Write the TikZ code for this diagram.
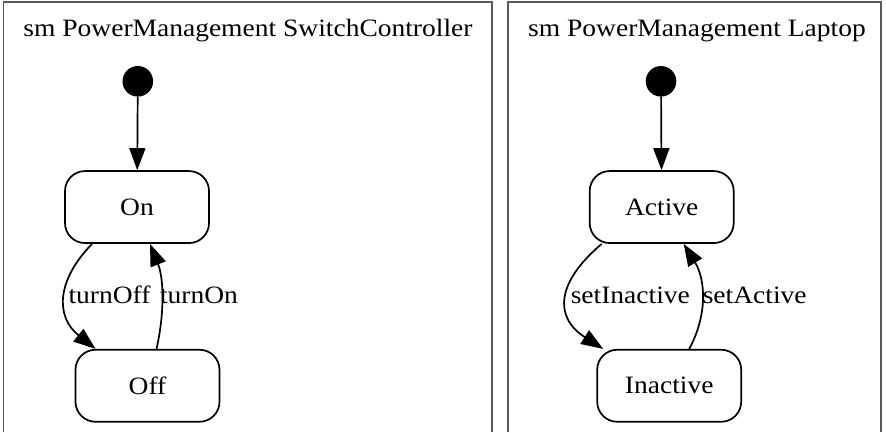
\documentclass[tikz,border=0pt]{standalone}
\usepackage{fontspec}
\setmainfont{Liberation Serif}[FakeStretch=1.1]
\usetikzlibrary{arrows.meta, positioning}

\begin{document}
\begin{tikzpicture}[
    x=1pt, y=-1pt,
    font=\fontsize{25}{29}\selectfont,
    state/.style={rectangle, draw, line width=1.7pt, rounded corners=20pt, minimum width=144pt, minimum height=72pt, align=center},
    startdot/.style={circle, fill=black, minimum size=30.6pt, inner sep=0pt},
    arrow/.style={line width=1.7pt, -{Triangle[length=22pt, width=16pt]}},
    frame/.style={draw=black!65, line width=1.5pt}
]
    \useasboundingbox (0,0) rectangle (886,432);

    % left machine
    \draw[frame] (3.5,432) -- (3.5,2) -- (492,2) -- (492,432);
    \node[anchor=base] (titleL) at (248,36) {sm PowerManagement SwitchController};
    \node[startdot] (initL) at (137.8,81.3) {};
    \node[state, below=73.4pt of initL, xshift=-0.8pt] (on) {On};
    \node[state, below=105pt of on, xshift=10.5pt] (off) {Off};

    \draw[arrow] (initL) -- (on);
    \draw[arrow] ([xshift=-45pt]on.south) .. controls +(-36,37) and +(-40,-32) .. ([xshift=-52pt]off.north);
    \draw[arrow] ([xshift=9pt]off.north) .. controls +(8,-35) and +(14,35) .. ([xshift=13pt]on.south);
    \node[anchor=base] (lblOff) at (109.5,303) {turnOff};
    \node[anchor=base] (lblOn) at (199,303) {turnOn};

    % right machine
    \draw[frame] (508,432) -- (508,2) -- (881,2) -- (881,432);
    \node[anchor=base] (titleR) at (697,36) {sm PowerManagement Laptop};
    \node[startdot] (initR) at (661,81.3) {};
    \node[state, below=73.4pt of initR, xshift=0.7pt] (active) {Active};
    \node[state, below=105pt of active, xshift=7.5pt] (inactive) {Inactive};

    \draw[arrow] (initR) -- (active);
    \draw[arrow] ([xshift=-60pt]active.south) .. controls +(-45,38) and +(-50,-32) .. ([xshift=-66pt]inactive.north);
    \draw[arrow] ([xshift=20pt]inactive.north) .. controls +(19,-35) and +(21.5,35) .. ([xshift=22pt]active.south);
    \node[anchor=base] (lblInactive) at (630.3,303) {setInactive};
    \node[anchor=base] (lblActive) at (754.7,303) {setActive};
\end{tikzpicture}
\end{document}
